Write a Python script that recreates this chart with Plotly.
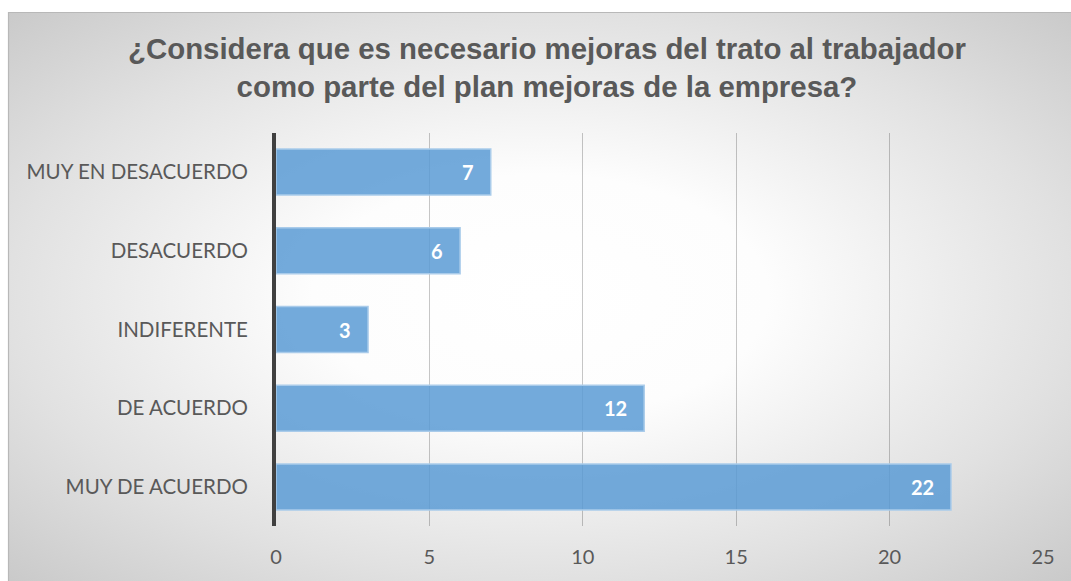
import plotly.graph_objects as go

categories = ["MUY EN DESACUERDO", "DESACUERDO", "INDIFERENTE", "DE ACUERDO", "MUY DE ACUERDO"]
values = [7, 6, 3, 12, 22]
x_ticks = [0, 5, 10, 15, 20, 25]
title_text = "¿Considera que es necesario mejoras del trato al trabajador<br>como parte del plan mejoras de la empresa?"

W, H = 1071, 581
fig = go.Figure()

# background panel with radial gradient (pixel coordinates on helper axes)
cx, cy = 540, 296
ax_, ay_ = 760, 405
fig.add_trace(go.Scatter(
    x=[cx - ax_, cx + ax_, cx + ax_, cx - ax_, cx - ax_],
    y=[cy - ay_, cy - ay_, cy + ay_, cy + ay_, cy - ay_],
    mode="lines", fill="toself",
    line=dict(color="rgba(0,0,0,0)", width=0),
    fillgradient=dict(type="radial", colorscale=[[0, "#ffffff"], [0.3, "#fdfdfd"], [0.7, "#e1e1e1"], [1, "#c9c9c9"]]),
    hoverinfo="skip", showlegend=False, xaxis="x", yaxis="y"))
# white outside the panel + panel border
fig.add_trace(go.Scatter(
    x=[-5, 8, 8, -5, -5], y=[-5, -5, 590, 590, -5], mode="lines", fill="toself",
    fillcolor="white", line=dict(width=0, color="white"),
    hoverinfo="skip", showlegend=False, xaxis="x", yaxis="y"))
fig.add_trace(go.Scatter(
    x=[-5, 1080, 1080, -5, -5], y=[-5, -5, 12, 12, -5], mode="lines", fill="toself",
    fillcolor="white", line=dict(width=0, color="white"),
    hoverinfo="skip", showlegend=False, xaxis="x", yaxis="y"))
fig.add_trace(go.Scatter(
    x=[8.5, 8.5, 1080], y=[590, 12.5, 12.5], mode="lines",
    line=dict(color="#b8b8b8", width=1.2),
    hoverinfo="skip", showlegend=False, xaxis="x", yaxis="y"))

fig.add_trace(go.Bar(
    y=categories, x=values, orientation="h",
    marker=dict(color="rgba(91,155,213,0.85)", line=dict(color="#a9cbea", width=1.5)),
    width=0.585, showlegend=False, xaxis="x2", yaxis="y2", hoverinfo="skip"))

for c, v in zip(categories, values):
    fig.add_annotation(x=v, y=c, xref="x2", yref="y2", text=f"<b>{v}</b>",
                       showarrow=False, xanchor="right", xshift=-15,
                       font=dict(family="Lato", size=20, color="white"))

fig.add_annotation(x=547 / W, y=1 - 67 / H, xref="paper", yref="paper", text=f"<b>{title_text}</b>",
                   showarrow=False, xanchor="center", yanchor="middle",
                   font=dict(family="Liberation Sans", size=29.4, color="#595959"))

fig.update_layout(
    width=W, height=H, autosize=False, showlegend=False,
    margin=dict(l=0, r=0, t=0, b=0, pad=0, autoexpand=False),
    paper_bgcolor="white", plot_bgcolor="rgba(0,0,0,0)",
    xaxis=dict(domain=[0, 1], range=[0, W], visible=False, fixedrange=True, automargin=False),
    yaxis=dict(domain=[0, 1], range=[H, 0], visible=False, fixedrange=True, automargin=False),
    xaxis2=dict(domain=[276 / W, 1043 / W], anchor="y2", range=[0, 25], automargin=False,
                tickvals=x_ticks, showgrid=True, gridcolor="rgba(0,0,0,0.22)", gridwidth=1,
                zeroline=False, showline=False, ticks="",
                ticklabelstandoff=17,
                tickfont=dict(family="Lato", size=20, color="#595959")),
    yaxis2=dict(domain=[1 - 526.4 / H, 1 - 132.6 / H], anchor="x2", automargin=False,
                autorange="reversed", showline=True, linecolor="#404040", linewidth=4,
                showgrid=False, ticks="", ticklabelstandoff=20,
                tickfont=dict(family="Lato", size=20.5, color="#595959")),
)

post = ("document.documentElement.style.overflow='hidden';"
        "document.body.style.margin='0';document.body.style.overflow='hidden';")
fig.write_html("out.html", config={"displayModeBar": False, "responsive": False}, post_script=post)
